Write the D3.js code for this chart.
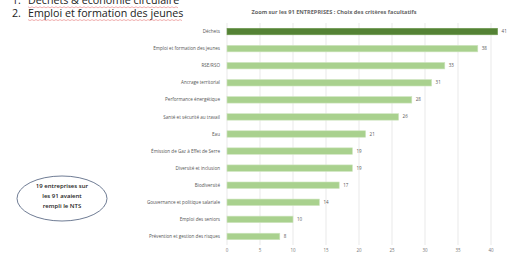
<!DOCTYPE html>
<html>
<head>
<meta charset="utf-8">
<script src="https://cdn.jsdelivr.net/npm/d3@7"></script>
<style>
  body { margin: 0; background: #fff; }
  svg { display: block; }
</style>
</head>
<body>
<svg id="chart" width="521" height="253"></svg>
<script>
// data
var categories = ["Déchets", "Emploi et formation des jeunes", "RSE/RSO", "Ancrage territorial",
  "Performance énergétique", "Santé et sécurité au travail", "Eau",
  "Émission de Gaz à Effet de Serre", "Diversité et inclusion", "Biodiversité",
  "Gouvernance et politique salariale", "Emploi des seniors", "Prévention et gestion des risques"];
var values = [41, 38, 33, 31, 28, 26, 21, 19, 19, 17, 14, 10, 8];
var xTicks = [0, 5, 10, 15, 20, 25, 30, 35, 40, 45];
var listItems = ["Déchets & économie circulaire", "Emploi et formation des jeunes"];
var noteLines = ["19 entreprises sur", "les 91 avaient", "rempli le NTS"];

var svg = d3.select("#chart");
var margin = { top: 23, left: 227, bottom: 8 };
var plotH = 253 - margin.top - margin.bottom;

var x = d3.scaleLinear().domain([0, 45]).range([margin.left, margin.left + 45 * 6.6]);
var y = d3.scaleBand().domain(categories).range([margin.top, margin.top + plotH]).paddingInner(0.62).paddingOuter(0.31);

// gridlines
svg.append("g").selectAll("line")
  .data(xTicks)
  .enter().append("line")
  .attr("x1", function(d) { return x(d); })
  .attr("x2", function(d) { return x(d); })
  .attr("y1", margin.top)
  .attr("y2", margin.top + plotH)
  .attr("stroke", "#e3e3e3")
  .attr("stroke-width", 0.8);

// x axis labels
svg.append("g").selectAll("text")
  .data(xTicks)
  .enter().append("text")
  .attr("x", function(d) { return x(d); })
  .attr("y", 252)
  .attr("text-anchor", "middle")
  .attr("font-family", "Open Sans, sans-serif")
  .attr("font-size", 4.5)
  .attr("fill", "#777")
  .text(function(d) { return d; });

// bars
svg.append("g").selectAll("rect")
  .data(values)
  .enter().append("rect")
  .attr("x", x(0))
  .attr("y", function(d, i) { return y(categories[i]); })
  .attr("width", function(d) { return x(d) - x(0); })
  .attr("height", y.bandwidth())
  .attr("fill", function(d, i) { return i === 0 ? "#548235" : "#a9d18e"; })
  .attr("stroke", function(d, i) { return i === 0 ? "#6f9a52" : "#cfe5c0"; })
  .attr("stroke-width", 0.6);

// value labels
svg.append("g").selectAll("text")
  .data(values)
  .enter().append("text")
  .attr("x", function(d) { return x(d) + 4; })
  .attr("y", function(d, i) { return y(categories[i]) + y.bandwidth() / 2; })
  .attr("dy", "0.35em")
  .attr("font-family", "Open Sans, sans-serif")
  .attr("font-size", 4.5)
  .attr("fill", "#555")
  .text(function(d) { return d; });

// category labels
svg.append("g").selectAll("text")
  .data(categories)
  .enter().append("text")
  .attr("x", 220)
  .attr("y", function(d) { return y(d) + y.bandwidth() / 2; })
  .attr("dy", "0.35em")
  .attr("text-anchor", "end")
  .attr("font-family", "Open Sans, sans-serif")
  .attr("font-size", 4.6)
  .attr("fill", "#555")
  .text(function(d) { return d; });

// title
svg.append("text")
  .attr("x", 334)
  .attr("y", 14)
  .attr("text-anchor", "middle")
  .attr("font-family", "Open Sans, sans-serif")
  .attr("font-size", 5.6)
  .attr("font-weight", "bold")
  .attr("fill", "#666")
  .text("Zoom sur les 91 ENTREPRISES : Choix des critères facultatifs");

// numbered list at top left (first line is cut by the top edge, as in the slide)
var list = svg.append("g").selectAll("g")
  .data(listItems)
  .enter().append("g")
  .attr("transform", function(d, i) { return "translate(0," + (4.3 + i * 12.8) + ")"; });

list.append("text")
  .attr("x", 12)
  .attr("font-family", "Open Sans, sans-serif")
  .attr("font-size", 10.7)
  .attr("fill", "#222")
  .text(function(d, i) { return (i + 1) + "."; });

list.append("text")
  .attr("class", "item")
  .attr("x", 28)
  .attr("font-family", "Open Sans, sans-serif")
  .attr("font-size", 10.7)
  .attr("fill", "#222")
  .text(function(d) { return d; });

// spell-check squiggles under the list items
list.each(function() {
  var t = d3.select(this).select("text.item").node();
  var w = t.getComputedTextLength();
  var pts = d3.range(0, Math.floor(w / 2) + 1).map(function(k) { return [28 + k * 2, 2.5 + (k % 2 ? 1 : 0)]; });
  d3.select(this).append("path")
    .attr("d", d3.line()(pts))
    .attr("fill", "none")
    .attr("stroke", "#e06060")
    .attr("stroke-width", 0.5);
});

// note ellipse
svg.append("ellipse")
  .attr("cx", 62)
  .attr("cy", 198.5)
  .attr("rx", 45)
  .attr("ry", 22.5)
  .attr("fill", "#fff")
  .attr("stroke", "#4a5a78")
  .attr("stroke-width", 0.8);

svg.append("g").selectAll("text")
  .data(noteLines)
  .enter().append("text")
  .attr("x", 62)
  .attr("y", function(d, i) { return 188 + i * 9.8; })
  .attr("text-anchor", "middle")
  .attr("font-family", "Open Sans, sans-serif")
  .attr("font-size", 6)
  .attr("font-weight", "600")
  .attr("fill", "#222")
  .text(function(d) { return d; });
</script>
</body>
</html>
